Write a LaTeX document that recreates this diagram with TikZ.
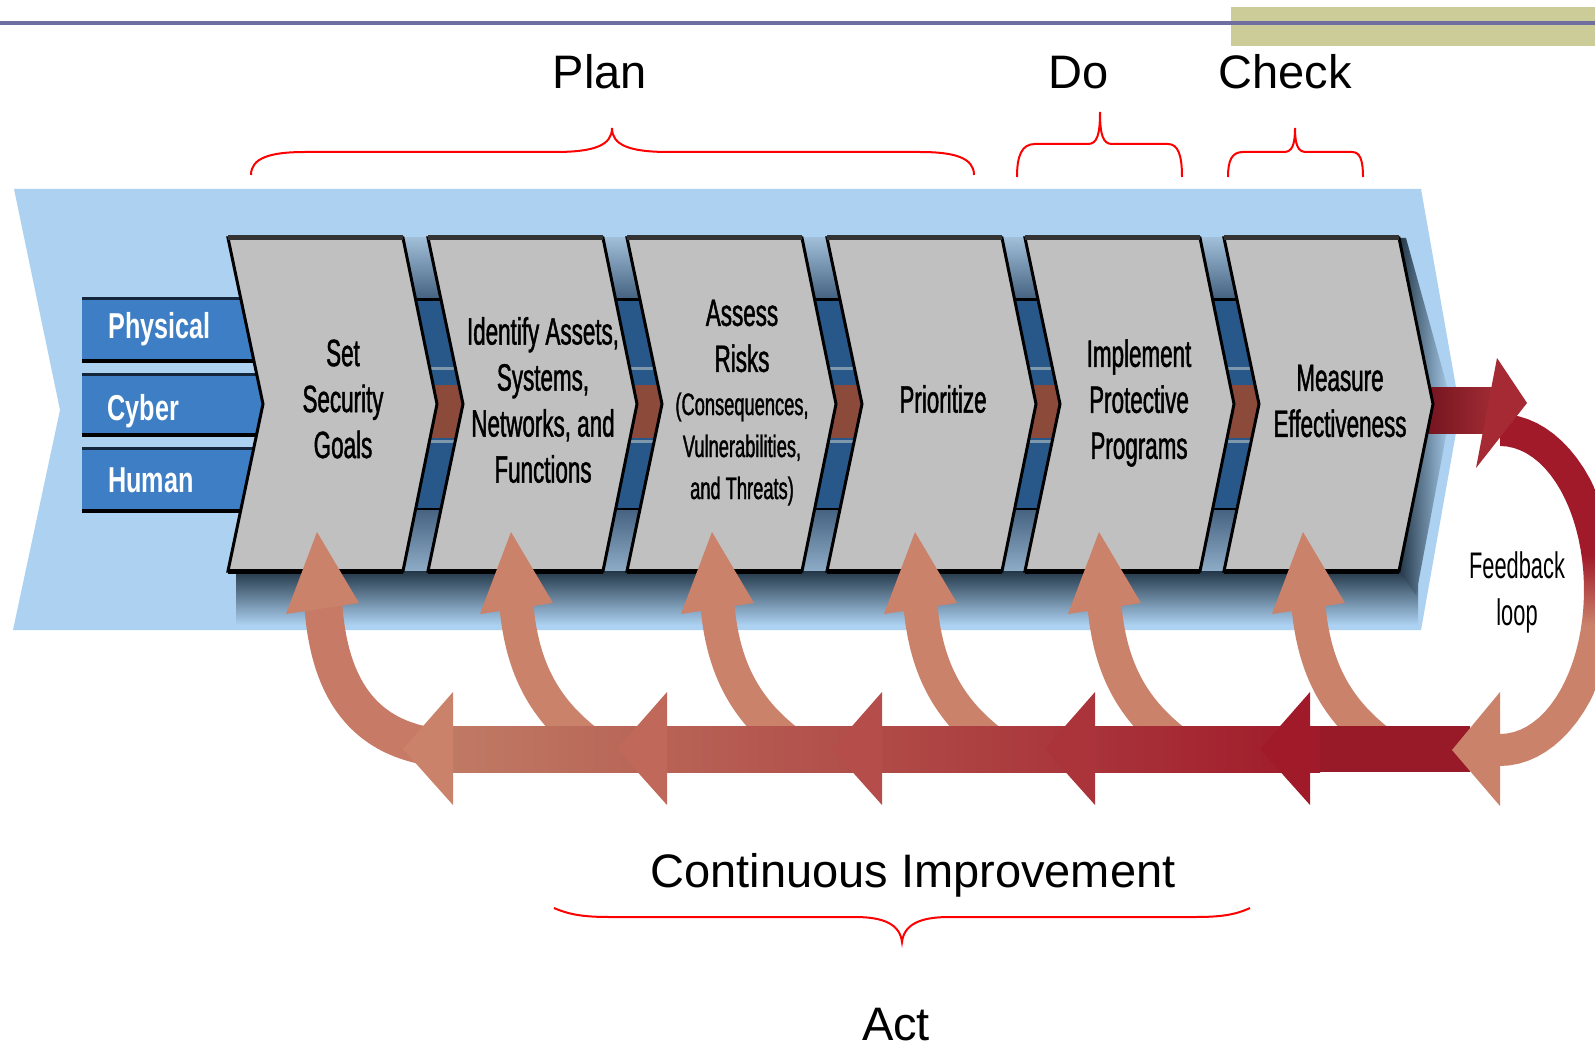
\documentclass[tikz,border=0pt]{standalone}
\usepackage{fontspec}
\setmainfont{Liberation Sans}
\newfontfamily\chevfont[FakeStretch=0.59,FakeBold=1.2]{Liberation Sans}
\newfontfamily\loopfont[FakeStretch=0.59]{Liberation Sans}
\newfontfamily\barfont[FakeStretch=0.7]{Liberation Sans}
\usetikzlibrary{calc}

\definecolor{bandblue}{RGB}{172,209,241}
\definecolor{barblue}{RGB}{62,126,196}
\definecolor{stripblue}{RGB}{40,88,138}
\definecolor{stripbrown}{RGB}{140,74,58}
\definecolor{steellight}{RGB}{160,190,215}
\definecolor{steeldark}{RGB}{70,100,130}
\definecolor{chevgray}{RGB}{192,192,192}
\definecolor{shadowdark}{RGB}{35,55,72}
\definecolor{armsalmon}{RGB}{202,130,106}
\definecolor{armcrimson}{RGB}{160,26,42}
\definecolor{bracered}{RGB}{255,0,0}
\definecolor{olivebar}{RGB}{204,204,153}
\definecolor{rulecolor}{RGB}{110,110,160}

\pgfdeclareverticalshading{loopshade}{100bp}{color(0bp)=(armsalmon); color(45bp)=(armsalmon); color(55bp)=(armcrimson); color(100bp)=(armcrimson)}

\begin{document}
\begin{tikzpicture}[x=0.5pt,y=-0.5pt,
    chev/.style={fill=chevgray,draw=black,line width=1.5pt,line join=miter},
    chevtext/.style={align=center,inner sep=0pt,font=\chevfont\fontsize{19pt}{23pt}\selectfont},
    bartext/.style={anchor=base west,inner sep=0pt,text=white,font=\barfont\bfseries\fontsize{18pt}{20pt}\selectfont},
    phase/.style={anchor=base,inner sep=0pt,font=\fontsize{23.5pt}{28pt}\selectfont},
    brace/.style={draw=bracered,line width=1pt},
    curvearm/.style={line width=17pt,draw=armsalmon}]
    \clip (0,0) rectangle (1595,1048);
    \fill[white] (0,0) rectangle (1595,1048); % background

    % header
    \fill[olivebar] (1231,7) rectangle (1595,46);
    \draw[rulecolor,line width=2pt] (0,23) -- (1595,23);

    % blue band
    \fill[bandblue] (14,189) -- (1421,189) -- (1460,410) -- (1421,630) -- (13,630) -- (60,410) -- cycle;

    % physical / cyber / human bars
    \foreach \top/\bot in {297/363,373/437,447/513} {
        \fill[barblue] (82,\top) rectangle (300,\bot);
        \draw[black,line width=2pt] (82,\bot-2) -- (300,\bot-2);
        \draw[black!70!barblue,line width=1.5pt] (82,\top+1.5) -- (300,\top+1.5);
    }

    % strips between the chevrons
    \shade[top color=steellight,bottom color=steeldark] (400,238) rectangle (1262,298);
    \fill[stripblue] (400,298) rectangle (1262,510);
    \fill[stripbrown] (400,385) rectangle (1262,438);
    \draw[steellight!80!black,line width=1.5pt] (400,368) -- (1262,368) (400,441) -- (1262,441);
    \draw[black,line width=1.5pt] (400,299) -- (1262,299) (400,509) -- (1262,509);
    \shade[top color=steeldark,bottom color=steellight!80!steeldark] (400,510) rectangle (1262,571);

    % shadows
    \shade[top color=shadowdark,bottom color=bandblue] (236,571) rectangle (1418,625);
    \shade[left color=shadowdark,right color=bandblue] (1399,238) -- (1434,404) -- (1399,571) -- (1416,595) -- (1452,404) -- (1406,238) -- cycle;

    % band leaving the last step
    \shade[left color=armcrimson!70!black,right color=armcrimson!80!armsalmon] (1420,387) rectangle (1505,433);

    % chevrons
    \foreach \x in {228,428,627,827,1025,1224} {
        \path[chev] (\x,238) -- (\x+175,238) -- (\x+209,404) -- (\x+175,571) -- (\x,571) -- (\x+35,404) -- cycle;
        \draw[black!80,line width=2.5pt] (\x,238) -- (\x+175,238);
        \draw[black,line width=2.5pt] (\x,571) -- (\x+175,571);
    }

    \node[bartext] (physical) at (108,338) {Physical};
    \node[bartext] (cyber) at (107,420) {Cyber};
    \node[bartext] (human) at (108,492) {Human};

    \node[chevtext] (goals) at (343,399) {Set\\Security\\Goals};
    \node[chevtext] (assets) at (543,400) {Identify Assets,\\Systems,\\Networks, and\\Functions};
    \node[chevtext] (risks) at (742,336) {Assess\\Risks};
    \node[chevtext,font=\chevfont\fontsize{15.5pt}{21pt}\selectfont] (riskparts) at (742,449) {(Consequences,\\Vulnerabilities,\\and Threats)};
    \node[chevtext] (prioritize) at (943,399) {Prioritize};
    \node[chevtext] (programs) at (1139,403) {Implement\\Protective\\Programs};
    \node[chevtext] (measure) at (1340,401) {Measure\\Effectiveness};

    % feedback loop
    \shade[shading=loopshade] plot[domain=90:-90,samples=40] ({1500+116*cos(\x)},{590-176*sin(\x)})
        -- plot[domain=-90:90,samples=40] ({1500+84*cos(\x)},{590-144*sin(\x)}) -- cycle;
    \fill[armcrimson!85!armsalmon] (1497,358) -- (1527,403) -- (1476,468) -- cycle;
    \node[chevtext,font=\loopfont\fontsize{18.5pt}{23.5pt}\selectfont] (feedback) at (1517,592) {Feedback\\loop};

    % improvement arrows
    \draw[curvearm,line width=19pt,draw=armsalmon!92!armcrimson] (323,600) .. controls (328,690) and (365,748) .. (460,749);
    \fill[armsalmon] (317,532) -- (359,603) -- (286,614) -- cycle;
    \foreach \t in {511,712,915,1099,1303} {
        \draw[curvearm] (\t+5,600) .. controls (\t+10,670) and (\t+35,715) .. (\t+90,752);
        \fill[armsalmon] (\t,532) -- (\t+42,603) -- (\t-31,614) -- cycle;
    }
    \shade[left color=armsalmon!95!black,right color=armcrimson] (440,726) rectangle (1320,772);
    \fill[armcrimson!95!black] (1320,726) rectangle (1470,772);
    \foreach \xb/\m in {453/0,667/25,882/50,1095/75,1310/100}
        \fill[armcrimson!\m!armsalmon] (\xb,692) -- (\xb,805) -- (\xb-50,749) -- cycle;
    \fill[armsalmon] (1452,750) -- (1500,692) -- (1500,806) -- cycle;

    % braces and phase labels
    \node[phase] (plan) at (600,89) {Plan};
    \node[phase] (do) at (1079,89) {Do};
    \node[phase] (check) at (1285,89) {Check};
    \node[phase] (improve) at (913,887) {Continuous Improvement};
    \node[phase] (act) at (896,1040) {Act};
    \draw[brace] (251,175) .. controls (251,158) and (270,152) .. (305,152) -- (555,152)
        .. controls (595,152) and (612,145) .. (612,128) .. controls (612,145) and (629,152) .. (669,152)
        -- (920,152) .. controls (955,152) and (974,158) .. (974,175);
    \draw[brace] (1017,177) .. controls (1017,155) and (1022,144) .. (1035,144) -- (1088,144)
        .. controls (1097,144) and (1100,135) .. (1100,112) .. controls (1100,135) and (1103,144) .. (1112,144)
        -- (1168,144) .. controls (1178,144) and (1182,155) .. (1182,177);
    \draw[brace] (1228,177) .. controls (1228,160) and (1232,152) .. (1243,152) -- (1284,152)
        .. controls (1292,152) and (1295,145) .. (1295,128) .. controls (1295,145) and (1298,152) .. (1306,152)
        -- (1352,152) .. controls (1360,152) and (1363,160) .. (1363,177);
    \draw[brace] (554,908) .. controls (570,915) and (585,917) .. (610,917) -- (855,917)
        .. controls (885,917) and (900,925) .. (902,942) .. controls (904,925) and (919,917) .. (949,917)
        -- (1195,917) .. controls (1220,917) and (1235,915) .. (1250,908);
\end{tikzpicture}
\end{document}
